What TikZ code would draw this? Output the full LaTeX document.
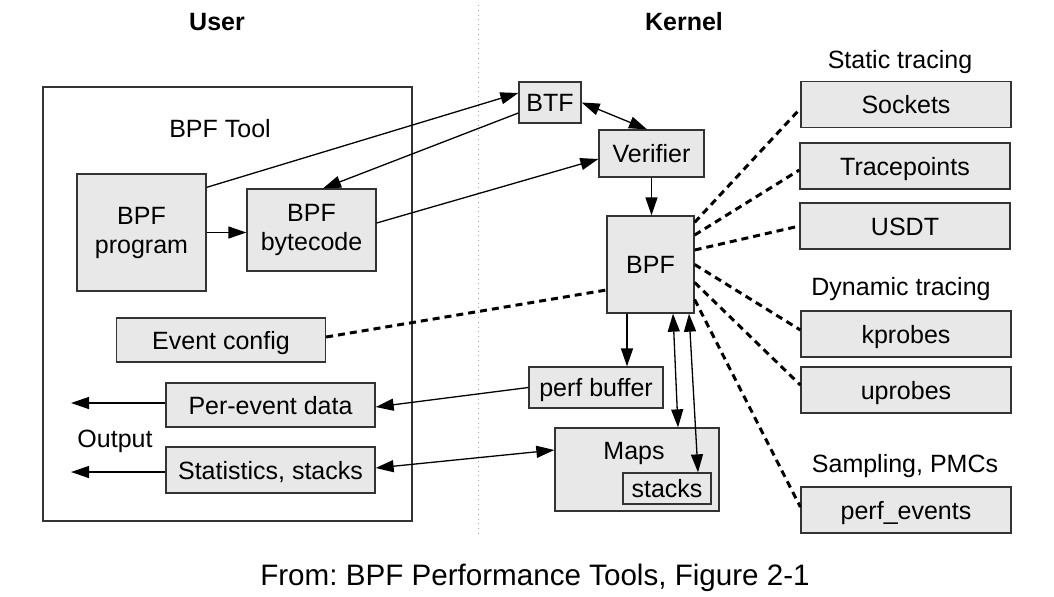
\documentclass[tikz,border=0pt]{standalone}
\usepackage{fontspec}
\setmainfont{Liberation Sans}
\usepackage{tikz}
\usetikzlibrary{arrows.meta,positioning}
\frenchspacing
\definecolor{boxfill}{HTML}{E8E8E8}
\definecolor{boxline}{HTML}{333333}
\tikzstyle{box} = [draw=boxline, line width=0.65pt, fill=boxfill, inner sep=0pt]
\tikzstyle{onebox} = [box, text height=9pt, text depth=0pt]
\tikzstyle{probe} = [onebox, minimum width=105pt, minimum height=23pt]
\tikzstyle{userbox} = [onebox, minimum width=104.5pt, minimum height=22pt]
\tikzstyle{arrow} = [line width=0.65pt, draw=black, ->]
\tikzstyle{twoway} = [line width=0.65pt, draw=black, <->]
\tikzstyle{hook} = [line width=1.5pt, dash pattern=on 3.5pt off 2.5pt]

\begin{document}
\begin{tikzpicture}[x=0.5pt, y=-0.5pt, >={Triangle[length=9pt,width=6pt]},
    every node/.style={font=\fontsize{12.5}{14.5}\selectfont}]
    \useasboundingbox (0,0) rectangle (1054,596);

    % headings
    \node[anchor=base, font=\fontsize{12.5}{14.5}\selectfont\bfseries] (user) at (217,30) {User};
    \node[anchor=base, font=\fontsize{12.5}{14.5}\selectfont\bfseries] (kernel) at (684,30) {Kernel};
    \draw[gray!70, dotted] (478,5) -- (478,535);

    % user side
    \node[draw=boxline, line width=0.65pt, minimum width=184.5pt, minimum height=217pt, inner sep=0pt] (tool) at (227.5,304) {};
    \node[anchor=base] (tooltxt) at (220,137) {BPF Tool};
    \node[box, minimum width=64.5pt, minimum height=58.5pt, align=center] (prog) at (141.5,232.5) {BPF\\program};
    \node[box, minimum width=64.5pt, minimum height=41pt, align=center] (bytecode) at (311.5,230) {BPF\\bytecode};
    \node[userbox] (evcfg) at (221,340) {Event config};
    \node[userbox] (perevent) at (270.5,405) {Per-event data};
    \node[userbox, minimum height=23pt] (stats) at (270.5,470) {Statistics, stacks};
    \node[anchor=base] (output) at (115,447) {Output};
    \coordinate (out) at (71,437);

    % kernel side
    \node[onebox, minimum width=31pt, minimum height=20.5pt] (btf) at (550,102.5) {BTF};
    \node[onebox, minimum width=52.5pt, minimum height=23.5pt] (verifier) at (651.5,153.5) {Verifier};
    \node[onebox, minimum width=43.5pt, minimum height=48.5pt] (bpf) at (650.5,264.5) {BPF};
    \node[onebox, minimum width=67pt, minimum height=20.5pt] (perfbuf) at (596,387.5) {perf buffer};
    \node[box, minimum width=82pt, minimum height=41.5pt] (maps) at (637,469.5) {};
    \node[anchor=base] (mapstxt) at (634,459) {Maps};
    \node[onebox, minimum width=44pt, minimum height=15.5pt] (stacks) at (667,488.5) {stacks};

    % event sources
    \node[anchor=base] (static) at (900,68) {Static tracing};
    \node[probe] (sockets) at (906,104.5) {Sockets};
    \node[probe] (tracepoints) at (905,166) {Tracepoints};
    \node[probe] (usdt) at (905,226) {USDT};
    \node[anchor=base] (dynamic) at (901,295) {Dynamic tracing};
    \node[probe] (kprobes) at (906,334) {kprobes};
    \node[probe] (uprobes) at (906,390) {uprobes};
    \node[anchor=base] (sampling) at (905,472) {Sampling, PMCs};
    \node[probe] (perfev) at (906,510) {perf\_events};

    \node[anchor=base, font=\fontsize{14.8}{17}\selectfont] (caption) at (535,585) {From: BPF Performance Tools, Figure 2-1};

    % program flow
    \draw[arrow] (prog.east) -- (prog.east -| bytecode.west);
    \draw[arrow] ([yshift=-7pt]prog.north east) -- ([yshift=4.75pt]btf.west);
    \draw[arrow] ([yshift=-5.25pt]btf.west) -- ([xshift=5.75pt]bytecode.north);
    \draw[arrow] ([yshift=3.5pt]bytecode.east) -- ([yshift=-2.75pt]verifier.west);
    \draw[twoway] (btf.east) -- ([xshift=-2.25pt]verifier.north);
    \draw[arrow] (verifier.south) -- (verifier.south |- bpf.north);
    \draw[arrow] ([xshift=-11.75pt]bpf.south) -- ([xshift=-11.75pt]bpf.south |- perfbuf.north);
    \draw[arrow] (perfbuf.west) -- ([yshift=-1pt]perevent.east);
    \draw[twoway] ([yshift=1pt]stats.east) -- ([yshift=9.75pt]maps.west);
    \draw[twoway] ([xshift=11.25pt]bpf.south) -- ([xshift=20.5pt]maps.north);
    \draw[twoway] ([xshift=19.25pt]bpf.south) -- ([xshift=15.5pt]stacks.north);
    \draw[arrow] ([yshift=1pt]perevent.west) -- ([yshift=1pt]perevent.west -| out);
    \draw[arrow] ([yshift=-1pt]stats.west) -- ([yshift=-1pt]stats.west -| out);

    % instrumentation
    \draw[hook] ([yshift=1.5pt]evcfg.east) -- ([yshift=-12.75pt]bpf.west);
    \draw[hook] ([yshift=-3.5pt]bpf.north east) -- ([yshift=-2pt]sockets.west);
    \draw[hook] ([yshift=14.75pt]bpf.east) -- ([yshift=-2pt]tracepoints.west);
    \draw[hook] ([yshift=7.25pt]bpf.east) -- (usdt.west);
    \draw[hook] (bpf.east) -- ([yshift=2pt]kprobes.west);
    \draw[hook] ([yshift=-9pt]bpf.east) -- ([yshift=2.5pt]uprobes.west);
    \draw[hook] ([yshift=-17.5pt]bpf.east) -- ([yshift=1.5pt]perfev.west);
\end{tikzpicture}
\end{document}
